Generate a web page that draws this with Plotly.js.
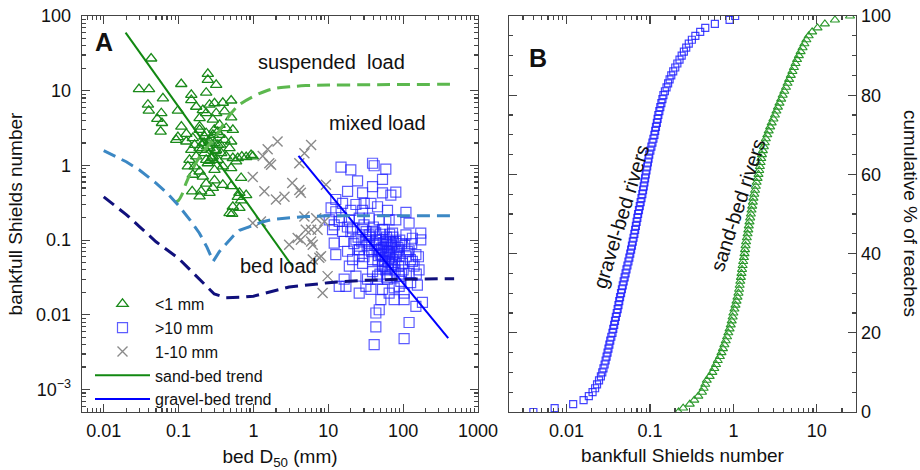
<!DOCTYPE html>
<html>
<head>
<meta charset="utf-8">
<script src="https://cdn.plot.ly/plotly-3.0.1.min.js"></script>
<style>html,body{margin:0;padding:0;background:#fff;}#chart{width:920px;height:470px;}</style>
</head>
<body>
<div id="chart"></div>
<script>
// ---------- Panel A data: bed D50 (mm) vs bankfull Shields number ----------
var sandD50 = [0.043,0.0296,0.0403,0.1086,0.246,0.246,0.318,0.234,0.148,0.148,0.0618,0.039,0.040,0.0588,0.052,0.060,0.0576,0.098,0.109,0.093,
  0.172,0.191,0.211,0.259,0.302,0.390,0.504,0.318,0.411,0.504,0.432,0.531,0.353,0.127,0.155,0.148,0.191,0.234,0.211,0.172,
  0.140,0.164,0.191,0.155,0.211,0.234,0.302,0.287,0.200,0.152,0.191,0.259,0.390,0.504,0.504,0.531,0.618,0.80,0.98,0.685,
  0.587,0.479,0.504,0.411,0.353,0.318,0.335,0.390,0.302,0.234,0.65,0.618,0.80,0.685,0.531,0.65,0.52,0.098,0.127,0.259,
  0.222,0.287,0.200,0.259,0.302,0.191,0.371,0.246,0.133,0.287,0.234,0.191,0.164,0.335,0.432,0.287,0.222,0.48,0.93,0.70,
  0.27,0.24,0.31,0.28,0.22,0.33,0.26,0.36,0.30];
var sandShields = [27,10.5,10.5,12.3,16.8,14.0,12.0,9.4,8.8,7.5,7.9,6.5,5.4,5.0,4.2,3.7,2.84,5.4,3.3,2.2,
  6.1,4.3,5.5,6.5,6.8,6.9,7.4,5.0,5.3,4.4,3.15,2.99,3.5,2.09,2.32,1.62,2.99,2.70,1.99,1.32,
  1.19,0.97,0.83,0.75,0.71,0.57,0.63,0.50,0.45,0.45,0.385,0.43,0.55,0.53,0.92,1.25,1.25,1.29,1.32,0.68,
  1.13,1.70,2.09,2.20,2.57,1.62,1.19,0.97,0.87,1.19,0.43,0.38,0.40,0.34,0.28,0.27,0.225,2.39,2.65,1.70,
  1.46,1.32,1.62,2.09,1.99,1.70,1.46,1.07,0.97,4.1,5.0,3.3,1.89,1.89,1.32,2.57,2.44,0.23,1.38,1.31,
  2.3,1.8,1.55,1.25,2.0,2.8,1.15,1.9,3.0];

var gravelD50 = [14.8,20.0,39.0,41.0,58.7,24.6,53.0,39.0,18.1,28.7,53.0,68.5,79.8,12.6,15.5,23.4,30.2,37.1,10.9,12.6,
  20.0,28.7,45.5,61.8,109,10.3,14.0,19.1,25.9,35.2,47.9,65.0,79.8,120,11.4,15.5,21.1,28.7,39.0,53.0,
  72.1,109,172,172,133,12.0,16.3,23.4,31.8,43.2,58.7,79.8,12.6,18.1,25.9,35.2,47.9,65.0,88.5,120,
  148,19.1,28.7,39.0,53.0,72.1,98.0,133,163,16.3,23.4,33.4,45.5,61.8,88.5,120,14.0,17.2,25.9,37.1,
  53.0,75.9,103,155,126,50.4,75.9,103,148,181,47.9,43.2,120,43.2,103,41.0,88.5,58.7,50.4,39.0,
  68.5,88.5,25.9,21.1,31.8,65.0,93.1,35.2,45.5,55,62,48,70,58,66,52,75,45,60,
  68,42,80,56,64,50,35,30,85,95,110,100,40,30,25,20,15,18,22,12,
  33,38,44,47,51,54,57,59,61,63,67,71,74,77,82,46,53,62,70,78,
  36,43,56,66,73,90,105,115,125,28,32,26,49,60,87,95,140,160,130,150];
var gravelShields = [0.95,0.87,1.07,0.99,0.89,0.62,0.65,0.52,0.45,0.43,0.43,0.40,0.44,0.35,0.31,0.30,0.31,0.31,0.27,0.24,
  0.25,0.25,0.28,0.25,0.235,0.187,0.178,0.187,0.197,0.197,0.187,0.187,0.187,0.169,0.138,0.131,0.145,0.138,0.131,0.138,
  0.124,0.118,0.124,0.101,0.106,0.091,0.096,0.101,0.101,0.101,0.096,0.096,0.064,0.071,0.074,0.074,0.074,0.071,0.074,0.074,
  0.064,0.045,0.049,0.055,0.052,0.055,0.049,0.052,0.040,0.030,0.033,0.030,0.033,0.030,0.033,0.036,0.024,0.024,0.0196,0.022,
  0.022,0.023,0.0196,0.025,0.027,0.016,0.016,0.016,0.013,0.0147,0.0117,0.0106,0.0079,0.0069,0.0048,0.0040,0.024,0.040,0.064,0.038,
  0.045,0.061,0.061,0.055,0.024,0.0196,0.028,0.118,0.030,0.08,0.07,0.09,0.085,0.06,0.058,0.065,0.065,0.075,0.11,
  0.095,0.085,0.06,0.045,0.05,0.12,0.09,0.06,0.08,0.09,0.06,0.04,0.15,0.16,0.11,0.13,0.2,0.15,0.09,0.16,
  0.085,0.07,0.1,0.062,0.078,0.092,0.052,0.073,0.088,0.1,0.066,0.078,0.095,0.05,0.07,0.054,0.045,0.042,0.047,0.04,
  0.11,0.125,0.14,0.12,0.11,0.1,0.085,0.07,0.055,0.095,0.13,0.075,0.035,0.032,0.045,0.035,0.045,0.06,0.09,0.035];

var mixedD50 = [0.98,1.40,2.0,2.6,3.3,4.1,4.3,4.1,5.9,4.8,1.33,1.55,1.63,1.72,2.1,0.98,1.26,3.0,3.9,5.0,
  5.9,7.2,4.8,6.9,4.3,5.9,6.2,8.0,6.2,7.6,9.8,8.4,9.3,8.9];
var mixedShields = [0.70,0.45,0.35,0.38,0.58,0.47,0.43,1.07,1.88,1.46,1.34,1.65,1.07,1.02,2.09,0.17,0.178,0.087,0.107,0.138,
  0.138,0.138,0.207,0.197,0.101,0.096,0.087,0.061,0.055,0.058,0.033,0.0196,0.55,0.178];

// trend lines (end points)
var sandTrendD50 = [0.0196, 3.3];
var sandTrendShields = [60, 0.045];
var gravelTrendD50 = [4.0, 400];
var gravelTrendShields = [1.34, 0.0049];

// threshold curves
var suspD50 = [0.09,0.1,0.11,0.126,0.15,0.2,0.3,0.45,0.52,0.65,1.0,1.5,2,3,5,10,30,100,480];
var suspShields = [0.32,0.34,0.40,0.58,0.85,1.4,2.3,4.3,5.2,6.5,8.4,10.0,10.8,11.3,11.7,11.9,12.0,12.1,12.2];
var mixD50 = [0.01,0.02,0.03,0.05,0.07,0.1,0.14,0.19,0.24,0.29,0.35,0.45,0.53,0.65,0.88,1.3,1.8,3,5,10,100,480];
var mixShields = [1.58,1.12,0.87,0.58,0.43,0.29,0.19,0.124,0.08,0.052,0.07,0.095,0.112,0.135,0.150,0.175,0.19,0.20,0.207,0.212,0.212,0.212];
var bedD50 = [0.01,0.02,0.03,0.05,0.1,0.15,0.23,0.3,0.43,0.7,1,2,3,7.6,10,30,100,480];
var bedShields = [0.38,0.22,0.152,0.095,0.057,0.038,0.024,0.019,0.017,0.0172,0.0178,0.021,0.0236,0.026,0.027,0.029,0.030,0.0305];

// ---------- Panel B data: sorted bankfull Shields numbers (one per 1 % of reaches) ----------
var gravelSorted = [0.0040,0.0072,0.0120,0.0160,0.0185,0.0205,0.0220,0.0232,0.0245,0.0258,
  0.0268,0.0277,0.0286,0.0294,0.0302,0.0310,0.0318,0.0326,0.0334,0.0344,
  0.0355,0.0363,0.0372,0.0381,0.0390,0.0400,0.0410,0.0419,0.0428,0.0438,
  0.0450,0.0461,0.0472,0.0484,0.0497,0.0510,0.0523,0.0537,0.0552,0.0566,
  0.0580,0.0594,0.0608,0.0622,0.0636,0.0650,0.0664,0.0678,0.0692,0.0706,
  0.0720,0.0738,0.0755,0.0773,0.0791,0.0810,0.0826,0.0842,0.0858,0.0874,
  0.0890,0.0908,0.0926,0.0944,0.0962,0.0980,0.1010,0.1040,0.1070,0.1100,
  0.1130,0.1155,0.1180,0.1210,0.1235,0.1260,0.1295,0.1330,0.1370,0.1410,
  0.1450,0.1510,0.1580,0.1650,0.1720,0.1800,0.1900,0.2010,0.2130,0.2260,
  0.2400,0.2550,0.2720,0.2920,0.3180,0.3500,0.4000,0.4600,0.6000,0.9000,1.0500];
var sandSorted = [0.22,0.25,0.30,0.34,0.38,0.42,0.44,0.46,0.48,0.52,
  0.56,0.59,0.62,0.65,0.69,0.72,0.75,0.78,0.81,0.84,
  0.87,0.90,0.93,0.955,0.98,1.00,1.03,1.06,1.09,1.12,
  1.15,1.17,1.19,1.21,1.23,1.25,1.27,1.29,1.31,1.34,
  1.36,1.38,1.40,1.42,1.45,1.48,1.51,1.53,1.56,1.59,
  1.62,1.65,1.68,1.71,1.74,1.78,1.82,1.86,1.90,1.95,
  2.00,2.04,2.08,2.12,2.16,2.20,2.26,2.32,2.38,2.45,
  2.55,2.65,2.76,2.88,3.02,3.15,3.28,3.42,3.57,3.74,
  3.90,4.08,4.27,4.46,4.66,4.88,5.10,5.32,5.56,5.80,
  6.10,6.40,6.75,7.10,7.50,8.00,8.80,10.2,12.5,16.5,25.0];

// tick labels
var tickA_x = [0.01,0.1,1,10,100,1000];
var tickA_xText = ['0.01','0.1','1','10','100','1000'];
var tickA_y = [0.001,0.01,0.1,1,10,100];
var tickA_yText = ['10<sup>\u22123</sup>','0.01','0.1','1','10','100'];
var tickB_x = [0.01,0.1,1,10];
var tickB_xText = ['0.01','0.1','1','10'];

function cumPct(arr){ var n = arr.length, out = []; for (var i=0;i<n;i++) out.push(100*i/(n-1)); return out; }
function minorLog(lo, hi){ var v=[]; for (var d=lo; d<=hi; d++) for (var k=2;k<=9;k++) v.push(k*Math.pow(10,d)); return v; }

var FONT = 'Liberation Sans, Arial, Helvetica, sans-serif';
var AX = '#444';

var traces = [
  {x: sandD50, y: sandShields, xaxis:'x', yaxis:'y', mode:'markers', type:'scatter', name:'<1 mm',
   marker:{symbol:'triangle-up-open', size:10, color:'#1a8a1a', line:{width:1.3, color:'#1a8a1a'}}},
  {x: gravelD50, y: gravelShields, xaxis:'x', yaxis:'y', mode:'markers', type:'scatter', name:'>10 mm',
   marker:{symbol:'square-open', size:10, color:'rgba(30,30,255,0.72)', line:{width:1.2}}},
  {x: mixedD50, y: mixedShields, xaxis:'x', yaxis:'y', mode:'markers', type:'scatter', name:'1-10 mm',
   marker:{symbol:'x-thin-open', size:10, color:'#8a8a8a', line:{width:1.4, color:'#8a8a8a'}}},
  {x: sandTrendD50, y: sandTrendShields, xaxis:'x', yaxis:'y', mode:'lines', type:'scatter', name:'sand-bed trend',
   line:{color:'#118811', width:2}},
  {x: gravelTrendD50, y: gravelTrendShields, xaxis:'x', yaxis:'y', mode:'lines', type:'scatter', name:'gravel-bed trend',
   line:{color:'#0000ff', width:2}},
  {x: suspD50, y: suspShields, xaxis:'x', yaxis:'y', mode:'lines', type:'scatter', showlegend:false, line:{shape:'spline', color:'#5cb84e', width:3, dash:'13px,7px'}},
  {x: mixD50, y: mixShields, xaxis:'x', yaxis:'y', mode:'lines', type:'scatter', showlegend:false, line:{color:'#3c88c4', width:3, dash:'13px,7px'}},
  {x: bedD50, y: bedShields, xaxis:'x', yaxis:'y', mode:'lines', type:'scatter', showlegend:false, line:{color:'#10107c', width:3, dash:'13px,7px'}},
  {x: gravelSorted, y: cumPct(gravelSorted), xaxis:'x2', yaxis:'y2', mode:'markers', type:'scatter', showlegend:false,
   marker:{symbol:'square-open', size:7, color:'rgba(20,20,255,0.8)', line:{width:1.2}}},
  {x: sandSorted, y: cumPct(sandSorted), xaxis:'x2', yaxis:'y2', mode:'markers', type:'scatter', showlegend:false,
   marker:{symbol:'triangle-up-open', size:8, color:'#2a982a', line:{width:1.1}}}
];

function axisBase(){
  return {showgrid:false, zeroline:false, showline:true, linecolor:AX, linewidth:1.3, mirror:'allticks',
          ticks:'inside', ticklen:8, tickwidth:1.2, tickcolor:AX,
          tickfont:{family:FONT, size:18, color:'#111'}, automargin:false};
}
var TITLEFONT = {family:FONT, size:19, color:'#111'};

var xa = axisBase(); Object.assign(xa, {type:'log', domain:[82/920, 478/920], range:[-2.29, 3.0], anchor:'y',
  tickmode:'array', tickvals:tickA_x, ticktext:tickA_xText, ticklabelstandoff:2,
  minor:{tickmode:'array', tickvals:minorLog(-3,2), ticks:'inside', ticklen:4, tickcolor:AX, showgrid:false},
  title:{text:'bed D<sub>50</sub> (mm)', font:TITLEFONT, standoff:10}});
var ya = axisBase(); Object.assign(ya, {type:'log', domain:[58/470, 454/470], range:[-3.3, 2.0], anchor:'x',
  tickmode:'array', tickvals:tickA_y, ticktext:tickA_yText, ticklabelstandoff:6,
  minor:{tickmode:'array', tickvals:minorLog(-4,1), ticks:'inside', ticklen:4, tickcolor:AX, showgrid:false},
  title:{text:'bankfull Shields number', font:TITLEFONT, standoff:8}});
var xb = axisBase(); Object.assign(xb, {type:'log', domain:[509/920, 856/920], range:[-2.69, 1.47], anchor:'y2',
  tickmode:'array', tickvals:tickB_x, ticktext:tickB_xText, ticklabelstandoff:2,
  minor:{tickmode:'array', tickvals:minorLog(-3,1), ticks:'inside', ticklen:4, tickcolor:AX, showgrid:false},
  title:{text:'bankfull Shields number', font:TITLEFONT, standoff:8}});
var yb = axisBase(); Object.assign(yb, {domain:[58/470, 454/470], range:[0, 100], anchor:'x2', side:'right',
  tickmode:'linear', tick0:0, dtick:20,
  minor:{dtick:5, ticks:'inside', ticklen:4, tickcolor:AX, showgrid:false}});

function ann(text, px, py, size, angle){
  return {text:text, xref:'paper', yref:'paper', x:px/920, y:(470-py)/470, xanchor:'center', yanchor:'middle',
          showarrow:false, textangle:angle||0, font:{family:FONT, size:size, color:'#111'}};
}

var layout = {
  width:920, height:470, margin:{l:0, r:0, t:0, b:0},
  paper_bgcolor:'#fff', plot_bgcolor:'#fff',
  font:{family:FONT, color:'#111'},
  xaxis:xa, yaxis:ya, xaxis2:xb, yaxis2:yb,
  showlegend:true,
  legend:{x:90/920, y:(470-287)/470, xanchor:'left', yanchor:'top', bgcolor:'rgba(0,0,0,0)',
          font:{family:FONT, size:16, color:'#111'}, itemwidth:55, tracegroupgap:0},
  annotations:[
    ann('<b>A</b>', 104, 42, 25),
    ann('<b>B</b>', 538, 58, 25),
    ann('suspended\u00a0 load', 331, 62, 20),
    ann('mixed load', 377, 123, 20),
    ann('bed load', 278, 266, 20),
    ann('gravel-bed rivers', 621, 217, 20, -73),
    ann('sand-bed rivers', 738, 205, 20, -72),
    ann('cumulative % of reaches', 911, 213, 19, 90)
  ]
};

Plotly.newPlot('chart', traces, layout, {staticPlot:true, displayModeBar:false});
</script>
</body>
</html>
